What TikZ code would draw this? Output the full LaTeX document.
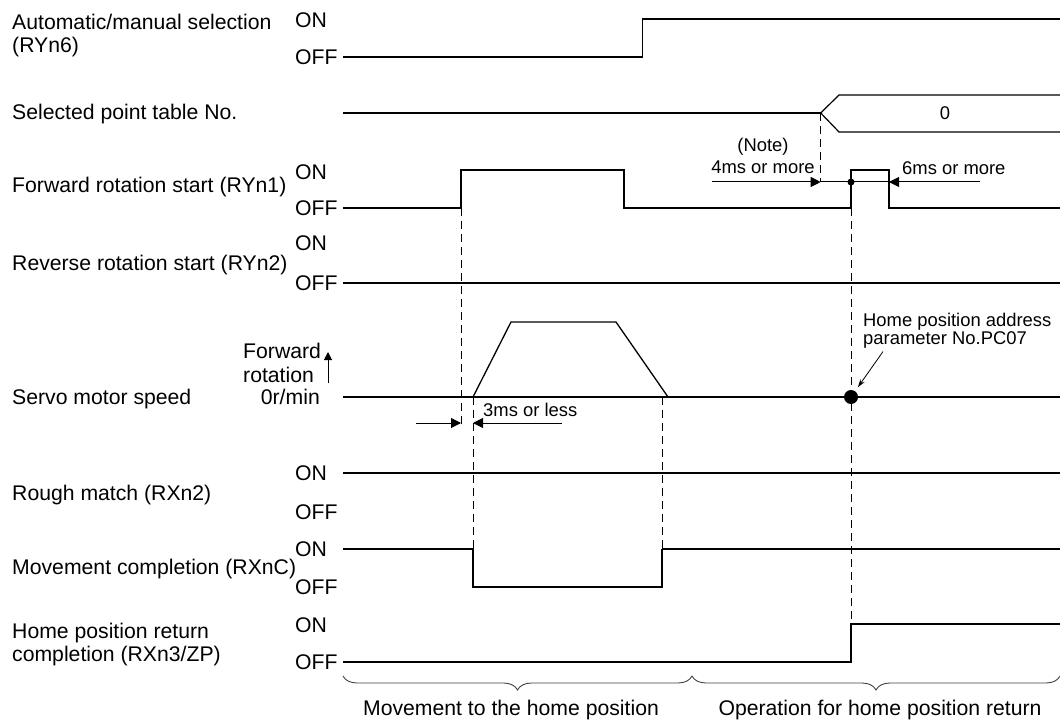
\documentclass[tikz,border=0pt]{standalone}
\usepackage{fontspec}
\setmainfont{Liberation Sans}
\usetikzlibrary{arrows.meta,decorations.pathreplacing}
\begin{document}
\begin{tikzpicture}[x=1pt, y=-1pt, inner sep=0pt,
	every node/.style={font=\fontsize{21.2}{23}\selectfont},
	ann/.style={font=\fontsize{18.4}{18}\selectfont},
	sig/.style={line width=1.9pt}, sigthin/.style={line width=1.2pt},
	guide/.style={line width=0.9pt, dash pattern=on 8pt off 5pt},
	dimarr/.style={line width=1pt, -{Triangle[length=10pt,width=10pt]}}]
	\useasboundingbox (0,0) rectangle (1060,722);
	\node[anchor=north west, align=left] (am) at (12,14) {Automatic/manual selection\\(RYn6)};
	\node[anchor=base west] (pt) at (12,120) {Selected point table No.};
	\node[anchor=base west] (fw) at (12,192.5) {Forward rotation start (RYn1)};
	\node[anchor=base west] (rv) at (12,270.5) {Reverse rotation start (RYn2)};
	\node[anchor=base west] (sp) at (12,404.5) {Servo motor speed};
	\node[anchor=base west] (rm) at (12,500.5) {Rough match (RXn2)};
	\node[anchor=base west] (mc) at (12,574.5) {Movement completion (RXnC)};
	\node[anchor=north west, align=left] (hc) at (12,622.5) {Home position return\\completion (RXn3/ZP)};
	\foreach \k/\yon/\yoff in {am/27.5/64.5, fw/179.5/215.5, rv/250.5/290.5, rm/480.5/519.5, mc/556.5/594.5, hc/632.5/669.5} {
		\node[anchor=base west] (on-\k) at (295,\yon) {ON};
		\node[anchor=base west] (off-\k) at (295,\yoff) {OFF};}
	\node[anchor=base west] (fwd) at (243,358) {Forward};
	\node[anchor=base west] (rot) at (243,382) {rotation};
	\node[anchor=base east] (zero) at (320,404.5) {0r/min};
	\draw[line width=1pt, -{Triangle[length=8pt,width=8pt]}] (328,383) -- (328,352);
	\draw[sigthin] (343,57) -| (642.7,19) -- (1060,19);
	\draw[sig] (343,113) -- (820.7,113);
	\draw[sigthin] (1060,95) -- (839,95) -- (820.7,113) -- (839,132) -- (1060,132);
	\node[ann] (tno) at (945,113) {0};
	\draw[sig] (343,208) -| (461,170) -| (624,208) -| (851,170) -| (889,208) -- (1060,208);
	\draw[sig] (343,283) -- (1060,283);
	\draw[sig] (343,397) -- (1060,397);
	\draw[line width=1.3pt] (473,397) -- (511,322) -- (616,322) -- (668,397);
	\draw[sigthin] (343,473) -- (1060,473);
	\draw[sig] (343,549) -| (473,587) -| (662,549);
	\draw[sigthin] (662,549) -- (1060,549);
	\draw[sig] (343,662) -| (851,624) -- (1060,624);
	\foreach \x/\ya/\yb in {461/208/428, 473/397/549, 662/397/549, 820.7/113/182, 851/208/662} {\draw[guide] (\x,\ya) -- (\x,\yb);}
	\node[ann, anchor=base] (note) at (763,151.6) {(Note)};
	\node[ann, anchor=base] (t4) at (763,173.6) {4ms or more};
	\node[ann, anchor=base west] (t6) at (902,174.6) {6ms or more};
	\draw[dimarr] (712,182) -- (820.7,182);
	\draw[line width=1pt] (820.7,182) -- (889,182);
	\draw[dimarr] (980,182) -- (889,182);
	\fill (851,182) circle (3.5);
	\node[ann, anchor=base west] (t3) at (483,416.6) {3ms or less};
	\draw[dimarr] (416,423) -- (461,423);
	\draw[dimarr] (562,423) -- (473,423);
	\coordinate (hp) at (851,397);
	\fill (hp) circle (7);
	\node[ann, anchor=north west, align=left] (hpa) at (863,313) {Home position address\\parameter No.PC07};
	\draw[line width=0.8pt, -{Stealth[length=8pt,width=5pt]}, shorten >=12pt] ([xshift=20pt,yshift=-3pt]hpa.south west) -- (hp);
	\draw[black!75, line width=0.9pt, decorate, decoration={brace, mirror, amplitude=14pt}] (343,676) -- (692,676);
	\draw[black!75, line width=0.9pt, decorate, decoration={brace, mirror, amplitude=14pt}] (692,676) -- (1060,676);
	\node[anchor=base] (mv) at (511,715.5) {Movement to the home position};
	\node[anchor=base] (op) at (880,715.5) {Operation for home position return};
\end{tikzpicture}
\end{document}
